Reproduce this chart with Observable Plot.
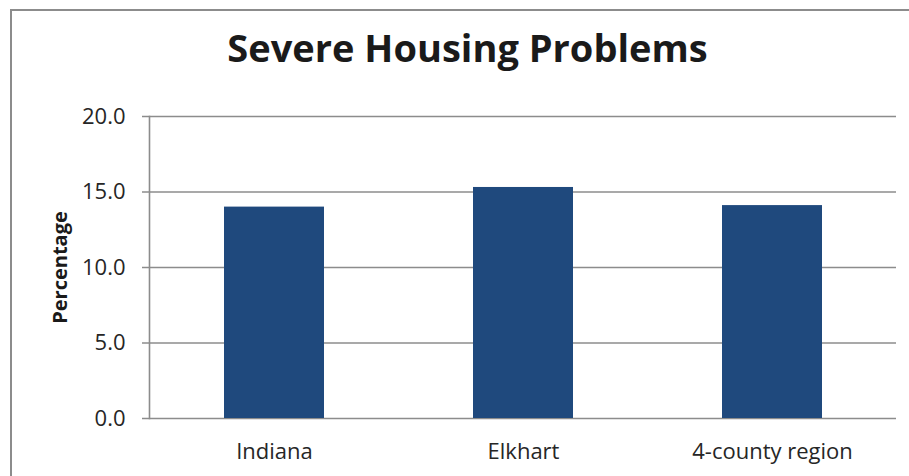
<!DOCTYPE html>
<html>
<head>
<meta charset="utf-8">
<script src="https://cdn.jsdelivr.net/npm/d3@7"></script>
<script src="https://cdn.jsdelivr.net/npm/@observablehq/plot@0.6"></script>
<style>
  html, body { margin: 0; padding: 0; background: #ffffff; }
  #wrap { position: relative; width: 909px; height: 476px; overflow: hidden; background: #fff; }
  #box { position: absolute; left: 10px; top: 9px; width: 920px; height: 480px;
         border-top: 2px solid #8c8c8c; border-left: 2px solid #8c8c8c; }
  #title { position: absolute; left: 0; width: 935px; top: 28px; text-align: center;
           font-family: "Open Sans", sans-serif; font-weight: 700; font-size: 38px;
           line-height: 38px; color: #1a1a1a; }
  #chart { position: absolute; left: 0; top: 0; }
</style>
</head>
<body>
<div id="wrap">
  <div id="box"></div>
  <div id="title">Severe Housing Problems</div>
  <div id="chart"></div>
</div>
<script>
const categories = ["Indiana", "Elkhart", "4-county region"];
const values = [14.0, 15.3, 14.1];
const yTicks = [0, 5, 10, 15, 20];
const yLabel = "Percentage";

const data = categories.map((c, i) => ({category: c, value: values[i]}));

const chart = Plot.plot({
  width: 909,
  height: 476,
  marginLeft: 149,
  marginRight: 13,
  marginTop: 116,
  marginBottom: 58,
  style: {fontFamily: "Open Sans, sans-serif", fontSize: "22px", color: "#262626", background: "transparent"},
  x: {domain: categories, paddingInner: 0.6, paddingOuter: 0.3, axis: null},
  y: {domain: [0, 20], axis: null},
  marks: [
    Plot.ruleY(yTicks, {stroke: "#8c8c8c", strokeWidth: 1.6, insetLeft: -7}),
    Plot.frame({anchor: "left", stroke: "#8c8c8c", strokeWidth: 1.6}),
    Plot.barY(data, {x: "category", y: "value", fill: "#1f497d"}),
    Plot.axisY(yTicks, {tickSize: 0, tickPadding: 24, tickFormat: d => d.toFixed(1), fontSize: 22, color: "#262626", label: null}),
    Plot.axisX({tickSize: 0, tickPadding: 25, fontSize: 22, color: "#262626", label: null}),
    Plot.text([yLabel], {text: d => d, frameAnchor: "left", textAnchor: "middle", dx: -89, rotate: -90, fontWeight: "bold", fontSize: 20, fill: "#1a1a1a"})
  ]
});
document.getElementById("chart").appendChild(chart);
</script>
</body>
</html>
